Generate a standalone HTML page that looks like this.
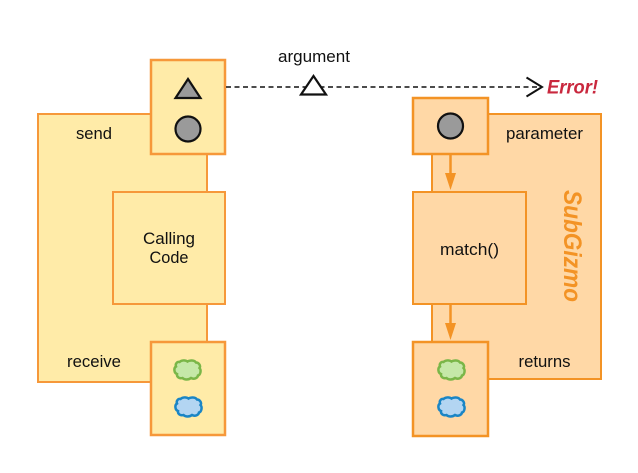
<!DOCTYPE html>
<html>
<head>
<meta charset="utf-8">
<style>
html,body{margin:0;padding:0;background:#fff;}
svg{display:block;}
text{font-family:"Liberation Sans",sans-serif;font-size:16.500px;fill:#111;}
</style>
</head>
<body>
<svg width="638" height="473" viewBox="0 0 638 473" xmlns="http://www.w3.org/2000/svg">
<defs>
<path id="cloud" d="M-8,-8 C-6,-10 -2,-10 0,-8.500 C2,-10 7,-10 8.500,-7.500 C11.500,-7.500 13.500,-4 12,-2 C14,0 13,5 10.500,5.500 C10,8.500 6,9.500 3.500,8 C1,10 -3,10 -5,8 C-8,9 -11,7 -10.500,4 C-13.500,3 -14,-2 -11.500,-3.500 C-12.500,-6 -10.500,-8.500 -8,-8 Z"/>
</defs>

<!-- left -->
<rect x="38" y="114" width="169" height="268" fill="#ffeba8" stroke="#f6983a" stroke-width="2"/>
<rect x="151" y="60" width="74" height="94" fill="#ffeba8" stroke="#f6983a" stroke-width="2.500"/>
<rect x="113" y="192" width="112" height="112" fill="#ffeba8" stroke="#f6983a" stroke-width="2"/>
<rect x="151" y="342" width="74" height="93" fill="#ffeba8" stroke="#f6983a" stroke-width="2.500"/>

<!-- right -->
<rect x="432" y="114" width="169" height="265" fill="#ffd8a6" stroke="#f39325" stroke-width="2"/>
<rect x="413" y="98" width="75" height="56" fill="#ffd8a6" stroke="#f39325" stroke-width="2.500"/>
<rect x="413" y="192" width="113" height="112" fill="#ffd8a6" stroke="#f39325" stroke-width="2"/>
<rect x="413" y="342" width="75" height="94" fill="#ffd8a6" stroke="#f39325" stroke-width="2.500"/>

<!-- orange arrows -->
<line x1="450.500" y1="154" x2="450.500" y2="175" stroke="#f39325" stroke-width="2.500"/>
<polygon points="445,173 456,173 450.500,190" fill="#f39325"/>
<line x1="450.500" y1="304" x2="450.500" y2="325" stroke="#f39325" stroke-width="2.500"/>
<polygon points="445,323 456,323 450.500,340" fill="#f39325"/>

<!-- dashed connector -->
<line x1="226" y1="87" x2="541" y2="87" stroke="#111" stroke-width="1.500" stroke-dasharray="5 3.500"/>
<polyline points="526.500,77.500 542,87 526.500,96.500" fill="none" stroke="#111" stroke-width="2"/>
<polygon points="313.500,76 326,94.500 301,94.500" fill="#fff" stroke="#111" stroke-width="2.200"/>

<!-- shapes left -->
<polygon points="188,79 200.500,98 175.500,98" fill="#9a9a9a" stroke="#111" stroke-width="2.200"/>
<circle cx="188" cy="129" r="12.500" fill="#9a9a9a" stroke="#111" stroke-width="2.200"/>
<use href="#cloud" x="187.500" y="370" fill="#c5e8a8" stroke="#7ab648" stroke-width="2.500"/>
<use href="#cloud" x="188.500" y="407" fill="#b3d5f2" stroke="#1a85c5" stroke-width="2.500"/>

<!-- shapes right -->
<circle cx="450.500" cy="126" r="12.500" fill="#9a9a9a" stroke="#111" stroke-width="2.200"/>
<use href="#cloud" x="451.500" y="370" fill="#c5e8a8" stroke="#7ab648" stroke-width="2.500"/>
<use href="#cloud" x="451.500" y="407" fill="#b3d5f2" stroke="#1a85c5" stroke-width="2.500"/>

<!-- labels -->
<text x="314" y="62" text-anchor="middle" textLength="72" lengthAdjust="spacingAndGlyphs">argument</text>
<text x="94" y="139" text-anchor="middle" textLength="36" lengthAdjust="spacingAndGlyphs">send</text>
<text x="169" y="244" text-anchor="middle" textLength="52" lengthAdjust="spacingAndGlyphs">Calling</text>
<text x="169" y="263" text-anchor="middle" textLength="39" lengthAdjust="spacingAndGlyphs">Code</text>
<text x="94" y="367" text-anchor="middle" textLength="54" lengthAdjust="spacingAndGlyphs">receive</text>
<text x="544.500" y="139" text-anchor="middle" textLength="77" lengthAdjust="spacingAndGlyphs">parameter</text>
<text x="469.500" y="255" text-anchor="middle" textLength="59" lengthAdjust="spacingAndGlyphs">match()</text>
<text x="544.500" y="367" text-anchor="middle" textLength="52" lengthAdjust="spacingAndGlyphs">returns</text>
<text x="572.500" y="93.500" style="font-size:19.500px;font-weight:bold;font-style:italic;fill:#c9283e" text-anchor="middle" textLength="51" lengthAdjust="spacingAndGlyphs">Error!</text>
<text transform="translate(564,246) rotate(90)" style="font-size:25px;font-weight:bold;font-style:italic;fill:#f39325" text-anchor="middle" textLength="112" lengthAdjust="spacingAndGlyphs">SubGizmo</text>
</svg>
</body>
</html>
